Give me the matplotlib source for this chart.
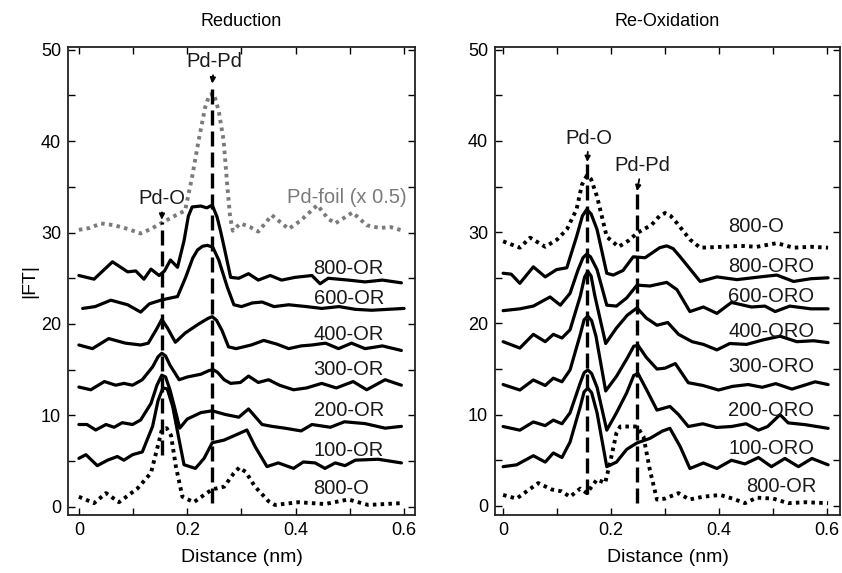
import matplotlib
matplotlib.use("Agg")
import matplotlib.pyplot as plt

plt.rcParams['font.family'] = ['Liberation Sans', 'DejaVu Sans']

# ---------------- Reduction (left) ----------------
r_800O_x = [0.0, 0.028, 0.05, 0.074, 0.108, 0.133, 0.145, 0.153, 0.162, 0.17, 0.179, 0.191, 0.212, 0.231, 0.246, 0.268, 0.285, 0.296, 0.308, 0.325, 0.35, 0.362, 0.405, 0.454, 0.497, 0.534, 0.595]
r_800O_y = [1.1, 0.4, 1.5, 0.5, 2.0, 3.7, 6.5, 8.4, 8.6, 7.8, 4.4, 1.1, 0.5, 1.3, 1.9, 2.2, 3.6, 4.3, 3.8, 2.2, 0.6, 0.2, 0.5, 0.3, 0.8, 0.2, 0.4]

r_100_x = [0.0, 0.013, 0.034, 0.053, 0.071, 0.083, 0.099, 0.117, 0.136, 0.146, 0.155, 0.163, 0.173, 0.185, 0.194, 0.215, 0.231, 0.246, 0.268, 0.295, 0.31, 0.325, 0.347, 0.368, 0.396, 0.414, 0.436, 0.454, 0.473, 0.491, 0.51, 0.552, 0.595]
r_100_y = [5.3, 5.7, 4.5, 5.1, 5.5, 5.1, 5.7, 6.0, 8.8, 11.6, 13.0, 12.9, 11.0, 7.3, 4.6, 4.2, 5.3, 7.0, 7.3, 8.0, 8.4, 6.6, 4.4, 4.8, 4.2, 4.9, 4.8, 4.2, 4.8, 4.5, 5.1, 5.2, 4.8]

r_200_x = [0.0, 0.015, 0.031, 0.05, 0.065, 0.08, 0.099, 0.114, 0.133, 0.144, 0.153, 0.16, 0.168, 0.176, 0.186, 0.2, 0.225, 0.246, 0.27, 0.295, 0.313, 0.338, 0.356, 0.38, 0.41, 0.43, 0.464, 0.49, 0.528, 0.565, 0.595]
r_200_y = [9.0, 9.0, 8.4, 9.0, 8.7, 9.2, 9.0, 9.5, 11.3, 13.3, 14.4, 14.2, 12.8, 11.0, 8.6, 9.6, 10.3, 10.5, 10.1, 9.8, 10.7, 9.0, 8.8, 8.6, 8.3, 9.0, 8.7, 9.3, 9.1, 8.6, 8.8]

r_300_x = [0.0, 0.022, 0.047, 0.068, 0.083, 0.099, 0.117, 0.136, 0.146, 0.153, 0.16, 0.168, 0.185, 0.2, 0.225, 0.24, 0.248, 0.256, 0.268, 0.28, 0.298, 0.313, 0.331, 0.35, 0.37, 0.396, 0.42, 0.448, 0.475, 0.506, 0.531, 0.565, 0.595]
r_300_y = [13.1, 12.8, 13.7, 13.3, 13.5, 13.3, 13.9, 15.3, 16.4, 16.8, 16.5, 15.5, 13.9, 14.2, 14.5, 14.9, 15.0, 14.7, 13.9, 13.5, 13.6, 14.3, 13.6, 13.9, 13.3, 12.8, 13.0, 13.5, 13.0, 13.7, 12.8, 13.9, 13.3]

r_400_x = [0.0, 0.025, 0.055, 0.086, 0.114, 0.128, 0.143, 0.153, 0.163, 0.178, 0.196, 0.221, 0.238, 0.246, 0.254, 0.264, 0.276, 0.29, 0.318, 0.341, 0.365, 0.387, 0.41, 0.43, 0.455, 0.479, 0.503, 0.528, 0.56, 0.595]
r_400_y = [17.7, 17.3, 18.4, 17.9, 17.7, 17.9, 19.4, 20.5, 19.6, 18.0, 19.0, 20.0, 20.6, 20.8, 20.4, 19.3, 17.5, 17.3, 17.7, 18.2, 17.8, 17.3, 17.6, 17.7, 17.9, 17.3, 17.9, 17.3, 17.6, 17.1]

r_600_x = [0.007, 0.03, 0.059, 0.09, 0.114, 0.13, 0.151, 0.166, 0.182, 0.197, 0.21, 0.219, 0.228, 0.237, 0.247, 0.258, 0.274, 0.286, 0.30, 0.32, 0.338, 0.36, 0.387, 0.42, 0.448, 0.48, 0.51, 0.54, 0.57, 0.6]
r_600_y = [21.7, 21.9, 22.6, 22.1, 21.3, 22.2, 22.6, 22.8, 23.0, 25.1, 27.2, 28.1, 28.5, 28.6, 28.4, 27.0, 24.0, 22.1, 21.9, 22.3, 22.4, 21.9, 22.1, 21.9, 21.7, 21.9, 21.6, 21.5, 21.6, 21.7]

r_800_x = [0.0, 0.028, 0.062, 0.09, 0.105, 0.12, 0.133, 0.148, 0.158, 0.169, 0.182, 0.194, 0.202, 0.209, 0.225, 0.236, 0.246, 0.255, 0.262, 0.268, 0.28, 0.295, 0.313, 0.331, 0.353, 0.374, 0.399, 0.43, 0.445, 0.46, 0.497, 0.528, 0.56, 0.595]
r_800_y = [25.3, 24.9, 26.8, 25.7, 25.8, 24.9, 26.0, 25.3, 25.8, 27.0, 26.2, 29.1, 31.8, 32.8, 32.9, 32.7, 33.0, 31.7, 30.0, 28.4, 25.1, 25.0, 25.5, 24.8, 25.3, 24.8, 25.1, 25.3, 24.4, 25.0, 24.8, 24.6, 24.8, 24.5]

foil_x = [0.0, 0.02, 0.041, 0.065, 0.09, 0.114, 0.133, 0.151, 0.179, 0.196, 0.209, 0.221, 0.233, 0.241, 0.249, 0.258, 0.267, 0.273, 0.279, 0.284, 0.298, 0.316, 0.331, 0.356, 0.387, 0.409, 0.44, 0.46, 0.473, 0.505, 0.531, 0.555, 0.575, 0.598]
foil_y = [30.3, 30.5, 31.0, 30.8, 30.4, 29.9, 30.4, 31.0, 31.9, 32.4, 36.1, 40.1, 43.7, 45.1, 45.2, 43.3, 40.1, 35.7, 31.7, 30.2, 31.0, 30.6, 30.1, 31.9, 30.4, 31.3, 33.0, 31.5, 31.0, 32.2, 30.8, 30.5, 30.6, 30.2]

# ---------------- Re-Oxidation (right) ----------------
o_800O_x = [0.0, 0.031, 0.05, 0.078, 0.1, 0.118, 0.136, 0.146, 0.155, 0.163, 0.174, 0.192, 0.214, 0.233, 0.248, 0.275, 0.29, 0.3, 0.31, 0.322, 0.346, 0.365, 0.408, 0.44, 0.47, 0.507, 0.538, 0.57, 0.602]
o_800O_y = [29.0, 28.3, 29.4, 28.4, 29.2, 30.3, 32.5, 35.2, 36.2, 35.8, 33.9, 29.5, 28.4, 29.1, 29.9, 30.8, 31.8, 32.1, 31.8, 31.0, 29.2, 28.3, 28.4, 28.5, 28.4, 28.8, 28.3, 28.4, 28.3]

o_800_x = [0.0, 0.015, 0.031, 0.056, 0.078, 0.099, 0.118, 0.136, 0.147, 0.155, 0.163, 0.174, 0.192, 0.204, 0.222, 0.241, 0.263, 0.29, 0.303, 0.315, 0.328, 0.365, 0.396, 0.433, 0.476, 0.507, 0.538, 0.57, 0.602]
o_800_y = [25.5, 25.4, 24.4, 26.2, 25.1, 25.9, 26.1, 29.5, 31.8, 32.5, 32.0, 30.3, 25.5, 25.3, 25.8, 27.3, 27.2, 28.3, 28.5, 28.2, 27.3, 24.6, 25.1, 24.8, 25.1, 25.3, 24.6, 24.9, 25.0]

o_600_x = [0.0, 0.031, 0.056, 0.087, 0.106, 0.124, 0.139, 0.148, 0.155, 0.162, 0.174, 0.192, 0.21, 0.229, 0.248, 0.272, 0.303, 0.322, 0.346, 0.371, 0.396, 0.423, 0.46, 0.485, 0.504, 0.531, 0.57, 0.602]
o_600_y = [21.4, 21.6, 21.9, 22.9, 22.0, 23.3, 25.9, 27.2, 27.6, 27.3, 25.9, 22.0, 21.9, 22.8, 24.2, 24.1, 24.5, 23.7, 21.3, 21.8, 21.1, 22.3, 21.8, 21.9, 21.3, 21.9, 21.6, 21.6]

o_400_x = [0.0, 0.031, 0.056, 0.078, 0.093, 0.109, 0.124, 0.143, 0.151, 0.157, 0.163, 0.17, 0.19, 0.21, 0.23, 0.248, 0.265, 0.285, 0.305, 0.325, 0.35, 0.371, 0.396, 0.42, 0.451, 0.482, 0.513, 0.544, 0.575, 0.602]
o_400_y = [18.0, 17.3, 18.8, 18.0, 18.8, 18.4, 19.3, 23.0, 25.1, 25.7, 25.2, 23.0, 17.8, 19.5, 20.9, 21.7, 20.6, 19.8, 20.1, 18.8, 18.0, 17.7, 17.1, 17.8, 17.7, 18.2, 18.6, 18.0, 18.1, 17.9]

o_300_x = [0.0, 0.031, 0.056, 0.078, 0.093, 0.109, 0.124, 0.143, 0.15, 0.157, 0.164, 0.172, 0.19, 0.21, 0.23, 0.242, 0.25, 0.265, 0.285, 0.3, 0.319, 0.343, 0.37, 0.399, 0.425, 0.454, 0.48, 0.505, 0.535, 0.578, 0.602]
o_300_y = [13.3, 12.7, 13.8, 13.2, 14.0, 13.6, 14.9, 18.8, 20.4, 20.8, 20.3, 18.6, 12.6, 14.2, 16.2, 17.5, 17.6, 16.3, 15.0, 15.1, 15.6, 13.5, 13.2, 12.7, 13.1, 13.3, 13.0, 13.4, 12.8, 13.6, 13.3]

o_200_x = [0.0, 0.031, 0.056, 0.078, 0.093, 0.109, 0.124, 0.143, 0.15, 0.157, 0.164, 0.174, 0.192, 0.21, 0.229, 0.242, 0.25, 0.266, 0.285, 0.309, 0.325, 0.343, 0.37, 0.395, 0.423, 0.45, 0.473, 0.49, 0.513, 0.528, 0.56, 0.602]
o_200_y = [8.7, 8.3, 9.2, 8.8, 9.4, 9.0, 10.2, 13.5, 14.6, 14.9, 14.5, 13.0, 8.3, 10.2, 12.4, 14.3, 14.5, 12.7, 10.5, 10.9, 10.0, 8.7, 9.0, 8.6, 8.7, 9.0, 8.3, 8.7, 10.0, 9.1, 8.9, 8.5]

o_100_x = [0.0, 0.025, 0.056, 0.078, 0.093, 0.109, 0.124, 0.143, 0.15, 0.157, 0.164, 0.174, 0.192, 0.21, 0.229, 0.248, 0.272, 0.295, 0.309, 0.328, 0.346, 0.371, 0.396, 0.423, 0.448, 0.473, 0.497, 0.522, 0.547, 0.572, 0.602]
o_100_y = [4.3, 4.5, 5.5, 4.8, 5.8, 5.3, 7.0, 10.9, 12.5, 12.9, 12.4, 10.2, 4.3, 4.8, 6.2, 6.9, 7.4, 8.2, 8.5, 6.5, 4.1, 4.7, 4.1, 5.0, 4.6, 5.3, 4.3, 5.2, 4.3, 5.2, 4.5]

o_800OR_x = [0.0, 0.025, 0.065, 0.09, 0.108, 0.124, 0.143, 0.155, 0.174, 0.189, 0.198, 0.21, 0.217, 0.248, 0.26, 0.272, 0.285, 0.3, 0.325, 0.345, 0.37, 0.402, 0.425, 0.448, 0.47, 0.5, 0.528, 0.56, 0.602]
o_800OR_y = [1.2, 0.8, 2.5, 1.8, 1.6, 1.0, 1.9, 1.4, 2.9, 2.5, 4.7, 8.0, 8.7, 8.7, 7.6, 3.9, 0.7, 0.8, 1.4, 0.7, 1.0, 1.2, 0.8, 0.3, 0.9, 0.8, 0.3, 0.4, 0.3]

# curve labels: (text, x, y)
red_labels = [('800-OR', 0.433, 26.1), ('600-OR', 0.433, 22.8), ('400-OR', 0.433, 18.8),
              ('300-OR', 0.433, 15.0), ('200-OR', 0.433, 10.5), ('100-OR', 0.433, 6.2),
              ('800-O', 0.433, 2.0)]
oxi_labels = [('800-O', 0.417, 30.6), ('800-ORO', 0.417, 26.2), ('600-ORO', 0.417, 22.9),
              ('400-ORO', 0.417, 19.1), ('300-ORO', 0.417, 15.3), ('200-ORO', 0.417, 10.5),
              ('100-ORO', 0.417, 6.3), ('800-OR', 0.451, 2.1)]

# bond markers: (text, x of line, line bottom, line top, text x, text y)
red_marks = [('Pd-O', 0.153, 5.7, 31.2, 0.154, 33.7), ('Pd-Pd', 0.246, 0.4, 46.1, 0.25, 48.7)]
oxi_marks = [('Pd-O', 0.156, 1.3, 37.5, 0.158, 40.3), ('Pd-Pd', 0.248, 0.3, 34.3, 0.257, 37.3)]

fig = plt.figure(figsize=(8.42, 5.73), dpi=100)
ax1 = fig.add_axes([0.0808, 0.1012, 0.412, 0.8168])
ax2 = fig.add_axes([0.5879, 0.1012, 0.4097, 0.8168])

solid = dict(color='black', lw=2.3, solid_joinstyle='round', solid_capstyle='round')
dots = dict(color='black', lw=2.8, linestyle=(0, (0.9, 1.1)))

ax1.plot(foil_x, foil_y, color='#7a7a7a', lw=2.8, linestyle=(0, (0.9, 1.1)))
ax1.plot(r_800_x, r_800_y, **solid)
ax1.plot(r_600_x, r_600_y, **solid)
ax1.plot(r_400_x, r_400_y, **solid)
ax1.plot(r_300_x, r_300_y, **solid)
ax1.plot(r_200_x, r_200_y, **solid)
ax1.plot(r_100_x, r_100_y, **solid)
ax1.plot(r_800O_x, r_800O_y, **dots)
ax1.text(0.604, 33.8, 'Pd-foil (x 0.5)', fontsize=14.5, ha='right', va='center', color='#7a7a7a')

ax2.plot(o_800O_x, o_800O_y, **dots)
ax2.plot(o_800_x, o_800_y, **solid)
ax2.plot(o_600_x, o_600_y, **solid)
ax2.plot(o_400_x, o_400_y, **solid)
ax2.plot(o_300_x, o_300_y, **solid)
ax2.plot(o_200_x, o_200_y, **solid)
ax2.plot(o_100_x, o_100_y, **solid)
ax2.plot(o_800OR_x, o_800OR_y, **dots)

for ax, labels, marks, title in [(ax1, red_labels, red_marks, 'Reduction'),
                                 (ax2, oxi_labels, oxi_marks, 'Re-Oxidation')]:
    for txt, x, y in labels:
        ax.text(x, y, txt, fontsize=14.5, ha='left', va='center', color='#1a1a1a')
    for txt, x, y0, y1, tx, ty in marks:
        ax.plot([x, x], [y0, y1], color='black', lw=2.4, linestyle=(0, (4.5, 1.8)), zorder=5)
        ax.annotate(txt, xy=(x, y1 + 0.2), xytext=(tx, ty), ha='center', va='center',
                    fontsize=14.5, color='#1a1a1a',
                    arrowprops=dict(arrowstyle='-|>', color='black', lw=1.3,
                                    mutation_scale=8, shrinkA=1, shrinkB=0))
    ax.text(0.5, 1.055, title, transform=ax.transAxes, ha='center', va='center', fontsize=13)
    ax.set_xlim(-0.02, 0.62)
    ax.set_ylim(-0.9, 50.3)
    ax.set_xticks([0, 0.2, 0.4, 0.6])
    ax.set_xticklabels(['0', '0.2', '0.4', '0.6'])
    ax.set_xticks([0.1, 0.3, 0.5], minor=True)
    ax.set_yticks([0, 10, 20, 30, 40, 50])
    ax.set_yticks([5, 15, 25, 35, 45], minor=True)
    ax.tick_params(which='both', direction='in', top=True, right=True, labelsize=13, pad=5)
    ax.tick_params(which='major', length=5, width=1)
    ax.tick_params(which='minor', length=5, width=1)
    for s in ax.spines.values():
        s.set_linewidth(1.3)
        s.set_color('#222222')
    ax.set_xlabel('Distance (nm)', fontsize=14, labelpad=7)

ax2.set_xlim(-0.015, 0.624)
ax2.set_ylim(-1.0, 50.3)
ax1.set_ylabel('|FT|', fontsize=14, labelpad=2)

fig.savefig('out.png', dpi=100)
